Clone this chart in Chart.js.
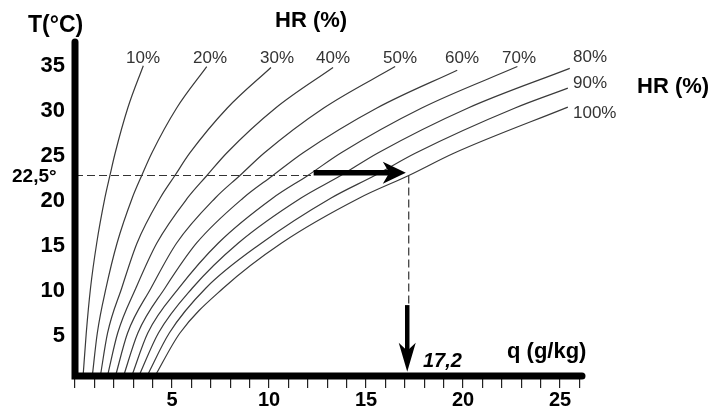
<!DOCTYPE html>
<html><head><meta charset="utf-8">
<script src="https://cdn.jsdelivr.net/npm/chart.js@4.4.1/dist/chart.umd.min.js"></script>
<style>html,body{margin:0;padding:0;background:#fff;}#wrap{width:715px;height:413px;position:relative;}</style>
</head><body><div id="wrap"><canvas id="c" width="715" height="413"></canvas></div>
<script>
// Temperatures (°C) at which each HR curve was read
const temps = [0, 5, 10, 15, 20, 22.5, 25, 30];
const hrLabels = ['10%','20%','30%','40%','50%','60%','70%','80%','90%','100%'];
// q (g/kg) of each HR curve at the temperatures above
const q10  = [0.41, 0.58, 0.80, 1.12, 1.54, 1.80, 2.07, 2.72];
const q20  = [0.88, 1.15, 1.60, 2.17, 2.95, 3.44, 3.96, 5.24];
const q30  = [1.29, 1.68, 2.41, 3.20, 4.39, 5.15, 5.92, 7.85];
const q40  = [1.65, 2.20, 3.14, 4.22, 5.80, 6.80, 7.82, 10.34];
const q50  = [2.06, 2.71, 3.92, 5.24, 7.23, 8.50, 9.75, 12.82];
const q60  = [2.47, 3.24, 4.64, 6.27, 8.67, 10.2, 11.74, 15.56];
const q70  = [2.89, 3.75, 5.36, 7.39, 10.2, 12.0, 13.7, 17.87];
const q80  = [3.25, 4.30, 6.05, 8.42, 11.65, 13.7, 15.61, 20.26];
const q90  = [3.66, 4.86, 6.75, 9.62, 13.2, 15.45, 17.56, 22.68];
const q100 = [4.07, 5.41, 7.65, 10.65, 14.66, 17.2, 19.55];
// upper end point of each curve
const topT = [34.7, 34.6, 34.5, 34.5, 34.6, 34.2, 34.6, 34.4, 32.2, 30.1];
const topQ = [3.52, 6.79, 10.1, 13.3, 16.5, 19.7, 22.8, 25.5, 25.4, 25.4];
// marked state
const markT = 22.5;
const markQ = 17.2;
const hArrowQ = [12.3, 17.05];
const hArrowT = 22.8;
const vArrowT = [8.1, 0.7];
// axis ticks
const yTickLabels = [5, 10, 15, 20, 25, 30, 35];
const xTickLabels = [5, 10, 15, 20, 25];

const curveQ = [q10,q20,q30,q40,q50,q60,q70,q80,q90,q100];

// label styling (canvas px)
const labelX = [143,210,277,333,400,462,519,573,573,573];
const labelBase = [63,63,63,63,63,63,63,62,88,118];

const datasets = curveQ.map((arr,i)=>{
  const pts = arr.map((q,j)=>({x:q, y:temps[j]}));
  pts.push({x:topQ[i], y:topT[i]});
  return {label:hrLabels[i], data:pts, showLine:true, borderColor:'#3a3a3a', borderWidth:1.2,
          pointRadius:0, cubicInterpolationMode:'monotone', fill:false};
});
datasets.push({label:'hdash', data:[{x:0,y:markT},{x:hArrowQ[0],y:markT}], showLine:true,
  borderColor:'#333', borderWidth:1.2, borderDash:[8,4], pointRadius:0});
datasets.push({label:'vdash', data:[{x:markQ,y:markT},{x:markQ,y:vArrowT[0]}], showLine:true,
  borderColor:'#333', borderWidth:1.2, borderDash:[8,4], pointRadius:0});

function drawArrow(ctx,x1,y1,x2,y2,w,hl,hh){
  const a=Math.atan2(y2-y1,x2-x1);
  const bx=x2-Math.cos(a)*hl*0.7, by=y2-Math.sin(a)*hl*0.7;
  ctx.save();
  ctx.strokeStyle='#000'; ctx.fillStyle='#000'; ctx.lineWidth=w; ctx.lineCap='butt';
  ctx.beginPath(); ctx.moveTo(x1,y1); ctx.lineTo(bx,by); ctx.stroke();
  ctx.translate(x2,y2); ctx.rotate(a);
  ctx.beginPath(); ctx.moveTo(0,0); ctx.lineTo(-hl,-hh); ctx.lineTo(-hl*0.72,0); ctx.lineTo(-hl,hh); ctx.closePath(); ctx.fill();
  ctx.restore();
}

const deco = {
  id:'deco',
  afterDatasetsDraw(chart){
    const ctx=chart.ctx, a=chart.chartArea, xs=chart.scales.x, ys=chart.scales.y;
    drawArrow(ctx, xs.getPixelForValue(hArrowQ[0]), ys.getPixelForValue(hArrowT),
              xs.getPixelForValue(hArrowQ[1]), ys.getPixelForValue(hArrowT), 5.5, 23, 11);
    drawArrow(ctx, xs.getPixelForValue(markQ)-1.5, ys.getPixelForValue(vArrowT[0]),
              xs.getPixelForValue(markQ)-1.5, ys.getPixelForValue(vArrowT[1]), 4.5, 29, 8.5);
    ctx.save();
    ctx.strokeStyle='#000'; ctx.lineWidth=7; ctx.lineCap='round';
    ctx.beginPath(); ctx.moveTo(a.left, a.top); ctx.lineTo(a.left, a.bottom-2); ctx.lineTo(a.right, a.bottom-2); ctx.stroke();
    ctx.restore();
  },
  afterDraw(chart){
    const ctx=chart.ctx;
    ctx.save();
    ctx.fillStyle='#333'; ctx.font='17px "Liberation Sans", Arial, sans-serif'; ctx.textBaseline='alphabetic';
    hrLabels.forEach((t,i)=>{ ctx.textAlign = i<7 ? 'center':'left'; ctx.fillText(t, labelX[i], labelBase[i]); });
    ctx.fillStyle='#000'; ctx.textAlign='left';
    ctx.font='bold 23px "Liberation Sans", Arial, sans-serif';
    ctx.fillText('T(°C)', 28, 32);
    ctx.font='bold 22px "Liberation Sans", Arial, sans-serif';
    ctx.fillText('HR (%)', 275, 27);
    ctx.fillText('HR (%)', 637, 93);
    ctx.fillText('q (g/kg)', 507, 358);
    ctx.font='bold 19px "Liberation Sans", Arial, sans-serif';
    ctx.fillText('22,5°', 12, 182);
    ctx.font='italic bold 20px "Liberation Sans", Arial, sans-serif';
    ctx.fillText('17,2', 423, 367);
    ctx.restore();
  }
};

new Chart(document.getElementById('c'), {
  type:'scatter',
  data:{datasets},
  plugins:[deco],
  options:{
    responsive:false, animation:false,
    layout:{padding:{left:0,right:133,top:42,bottom:0}},
    plugins:{legend:{display:false}, tooltip:{enabled:false}},
    scales:{
      x:{type:'linear', min:0, max:26.13,
        afterFit(s){s.height=35;},
        border:{display:false},
        grid:{drawOnChartArea:false, drawTicks:true, tickLength:10, color:'#222', lineWidth:1.2},
        ticks:{stepSize:1, autoSkip:false, maxRotation:0, includeBounds:false, padding:0, color:'#000',
          font:{family:'"Liberation Sans", Arial, sans-serif', size:20, weight:'bold'},
          callback:v=> xTickLabels.includes(v) ? String(v) : ''}
      },
      y:{type:'linear', min:0, max:37.33,
        afterFit(s){s.width=75;},
        border:{display:false},
        grid:{display:false, drawTicks:false},
        ticks:{stepSize:5, includeBounds:false, padding:10, labelOffset:3, color:'#000',
          font:{family:'"Liberation Sans", Arial, sans-serif', size:22, weight:'bold'},
          callback:v=> yTickLabels.includes(v) ? String(v) : ''}
      }
    }
  }
});
</script></body></html>
